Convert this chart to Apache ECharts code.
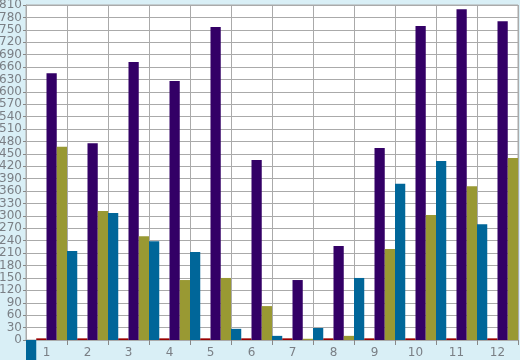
<!DOCTYPE html>
<html>
<head>
<meta charset="utf-8">
<script src="https://cdn.jsdelivr.net/npm/echarts@6/dist/echarts.min.js"></script>
<style>
html,body{margin:0;padding:0;background:#d9eff6;}
#c{width:520px;height:360px;}
</style>
</head>
<body>
<div id="c"></div>
<script>
var categories = ['1','2','3','4','5','6','7','8','9','10','11','12'];
var blueValues   = [-60, 215, 307, 239, 213, 27, 10, 29, 150, 378, 433, 280];
var redValues    = [4, 4, 4, 4, 4, 4, 4, 4, 4, 4, 4, 4];
var purpleValues = [645, 476, 672, 626, 757, 435, 145, 227, 464, 759, 800, 771];
var oliveValues  = [467, 312, 251, 145, 150, 82, 3, 10, 220, 302, 372, 440];
var yMin = 0, yMax = 810, yStep = 30;

var chart = echarts.init(document.getElementById('c'), null, {renderer:'canvas'});
var labelStyle = {color:'#7a7f85', fontFamily:'DejaVu Sans', fontSize:12};
function bar(name, data, color){
  return {type:'bar', name:name, data:data, barGap:'0%', barCategoryGap:'0%',
    clip:false, itemStyle:{color:color}, animation:false};
}
chart.setOption({
  animation:false,
  backgroundColor:'#d9eff6',
  grid:{left:26, right:2, top:5, bottom:20, containLabel:false, outerBoundsMode:'none',
    show:true, backgroundColor:'#ffffff', borderColor:'#aaaaaa', borderWidth:1},
  xAxis:{type:'category', data:categories, boundaryGap:true,
    axisLine:{lineStyle:{color:'#aaaaaa'}},
    axisTick:{show:true, length:5, lineStyle:{color:'#888888'}},
    splitLine:{show:true, lineStyle:{color:'#aaaaaa'}},
    axisLabel:Object.assign({margin:7}, labelStyle)},
  yAxis:{type:'value', min:yMin, max:yMax, interval:yStep,
    axisLine:{show:true, lineStyle:{color:'#aaaaaa'}},
    axisTick:{show:true, length:3, lineStyle:{color:'#888888'}},
    splitLine:{show:true, lineStyle:{color:'#aaaaaa'}},
    axisLabel:Object.assign({margin:4}, labelStyle)},
  series:[
    bar('blue', blueValues, '#006699'),
    bar('red', redValues, '#990000'),
    bar('purple', purpleValues, '#330066'),
    bar('olive', oliveValues, '#999933')
  ]
});
</script>
</body>
</html>
